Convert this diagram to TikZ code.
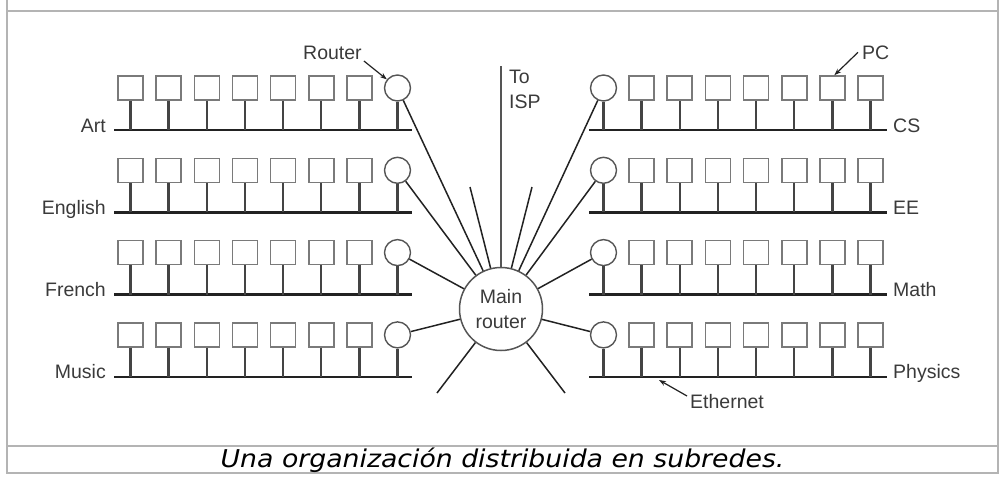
\documentclass[tikz,border=0pt]{standalone}
\usepackage{fontspec}
\setmainfont{Liberation Sans}
\newfontfamily\capfont[FakeStretch=1.09]{DejaVu Sans}
\usetikzlibrary{arrows.meta}
\definecolor{pcgray}{HTML}{7A7A7A}
\definecolor{rtrgray}{HTML}{555555}
\definecolor{stemgray}{HTML}{444444}
\definecolor{busgray}{HTML}{222222}
\definecolor{linkgray}{HTML}{222222}
\definecolor{lblgray}{HTML}{3A3A3A}
\definecolor{framegray}{HTML}{B4B4B4}
\begin{document}
\begin{tikzpicture}[x=1pt,y=-1pt,
  pc/.style={draw=pcgray,line width=1.6pt,minimum width=25pt,minimum height=24pt,inner sep=0pt},
  rtr/.style={circle,draw=rtrgray,line width=1.4pt,minimum size=26pt,inner sep=0pt},
  stem/.style={draw=stemgray,line width=2.4pt},
  bus/.style={draw=busgray,line width=2.6pt},
  link/.style={draw=linkgray,line width=1.5pt},
  lbl/.style={text=lblgray,font=\fontsize{19.5}{24.5}\selectfont,inner sep=0pt},
  arr/.style={draw=linkgray,line width=1.2pt,-{Stealth[length=7pt,width=5pt]}},
  frame/.style={draw=framegray,line width=2pt}]
\useasboundingbox (0,0) rectangle (1004,480);
% frame
\draw[frame] (7,0) -- (7,473) -- (998,473) -- (998,0);
\draw[frame] (7,10.5) -- (998,10.5);
\draw[frame] (7,446) -- (998,446);
% main router
\node[circle,draw=rtrgray,line width=1.5pt,minimum size=83pt,inner sep=0pt,align=center,lbl] (main) at (501,309) {Main\\router};
% subnets
\foreach \r/\ln/\rn in {0/Art/CS,1/English/EE,2/French/Math,3/Music/Physics} {
  \pgfmathsetmacro\by{130+82.3*\r}
  % left side
  \coordinate (LbA\r) at (114,\by);
  \coordinate (LbB\r) at (412,\by);
  \draw[bus] (LbA\r) -- (LbB\r);
  \foreach \i in {0,...,6} {
    \pgfmathsetmacro\cx{130.5+38.15*\i}
    \node[pc] (L\r-\i) at (\cx,\by-42) {};
    \draw[stem] (L\r-\i.south) -- (L\r-\i.south |- LbA\r);
  }
  \node[rtr] (L\r-r) at (397.5,\by-42) {};
  \draw[stem] (L\r-r.south) -- (L\r-r.south |- LbA\r);
  \node[lbl,anchor=base east] (Lt\r) at (106,\by+2) {\ln};
  % right side
  \coordinate (RbA\r) at (589,\by);
  \coordinate (RbB\r) at (887,\by);
  \draw[bus] (RbA\r) -- (RbB\r);
  \foreach \i in {0,...,6} {
    \pgfmathsetmacro\cx{870.5-38.15*\i}
    \node[pc] (R\r-\i) at (\cx,\by-42) {};
    \draw[stem] (R\r-\i.south) -- (R\r-\i.south |- RbA\r);
  }
  \node[rtr] (R\r-r) at (603.5,\by-42) {};
  \draw[stem] (R\r-r.south) -- (R\r-r.south |- RbA\r);
  \node[lbl,anchor=base west] (Rt\r) at (893,\by+2) {\rn};
  % links to main router
  \draw[link] (L\r-r) -- (main);
  \draw[link] (R\r-r) -- (main);
}
% stubs
\coordinate (st1) at (470,187);
\coordinate (st2) at (532,187);
\coordinate (st3) at (437,393);
\coordinate (st4) at (565,393);
\foreach \s in {st1,st2,st3,st4} \draw[link] (\s) -- (main);
% ISP
\coordinate (isp) at (501,66);
\draw[draw=rtrgray,line width=2pt] (isp) -- (main);
\node[lbl,anchor=north west,align=left] (ispl) at (509,70) {To\\ISP};
% annotations
\node[lbl,anchor=base west] (rtl) at (303,59) {Router};
\draw[arr] ([xshift=2pt,yshift=-2pt]rtl.base east) -- (L0-r);
\node[lbl,anchor=base west] (pcl) at (862,59) {PC};
\draw[arr] ([xshift=-4pt]pcl.west) -- ([xshift=2pt]R0-1.north);
\node[lbl,anchor=west] (ethl) at (690,402) {Ethernet};
\coordinate (ethA) at (687,396);
\coordinate (ethB) at (659,380);
\draw[arr] (ethA) -- (ethB);
% caption
\node[font=\capfont\itshape\fontsize{24.5}{29}\selectfont,anchor=base,inner sep=0pt] (cap) at (502.5,467) {Una organización distribuida en subredes.};
\end{tikzpicture}
\end{document}
